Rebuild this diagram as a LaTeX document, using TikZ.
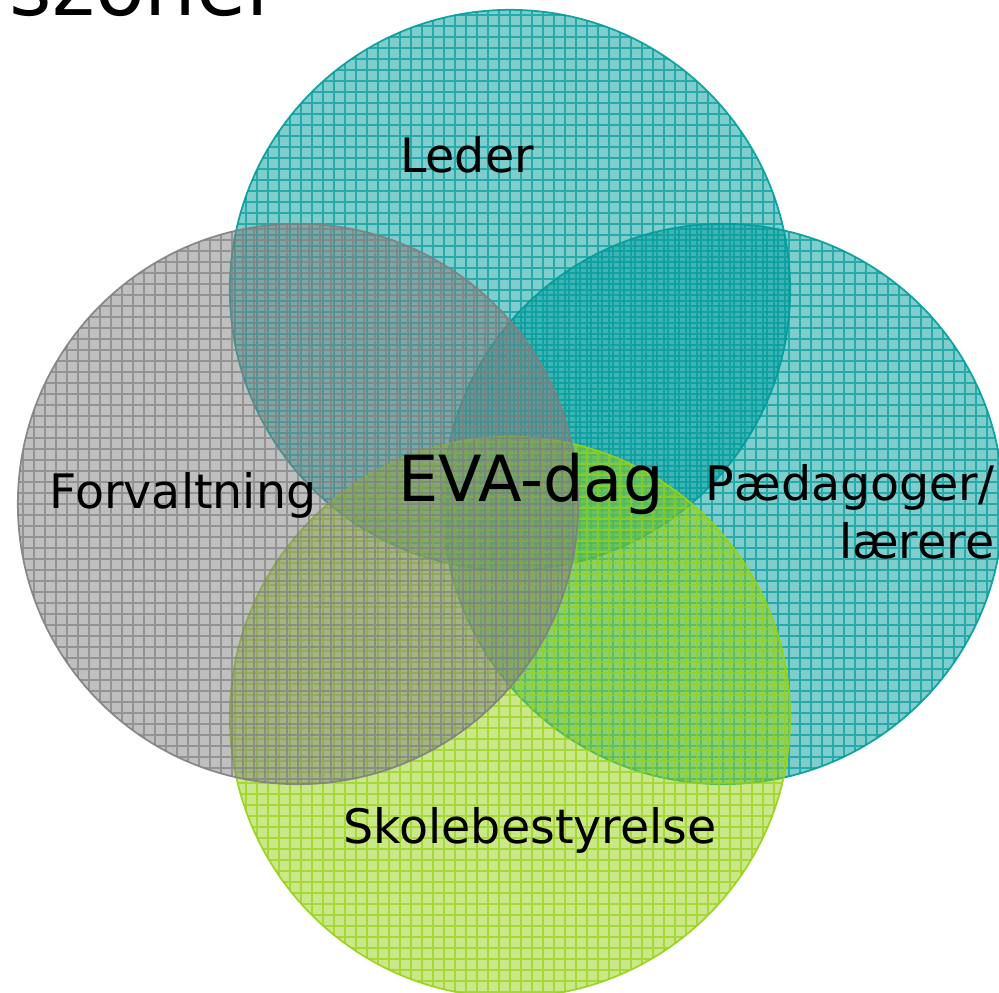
\documentclass[tikz,border=0pt]{standalone}
\usepackage{fontspec}
\setmainfont{DejaVu Sans}
\definecolor{vennteal}{RGB}{0,155,155}
\definecolor{venngrey}{RGB}{128,128,128}
\definecolor{venngreen}{RGB}{150,210,20}

\begin{document}
\begin{tikzpicture}[x=0.01cm, y=0.01cm,
    venn/.style={circle, minimum size=5.6cm, inner sep=0pt, draw=#1, line width=0.5pt,
      fill=#1, fill opacity=0.5, draw opacity=0.9,
      path picture={\draw[#1, draw opacity=0.7, line width=0.3pt, step=11]
        (path picture bounding box.south west) grid (path picture bounding box.north east);}},
    venntext/.style={inner sep=0pt, text=black, font=\fontsize{13.5}{16.5}\selectfont}
]
\useasboundingbox (0,0) rectangle (999,993);

% Titel (beskaaret)
\node[anchor=base west, inner sep=0pt, font=\fontsize{23.2}{27}\selectfont] (title) at (9,977) {szoner};

% Cirkler
\node[venn=vennteal] (leder) at (510,703) {};
\node[venn=vennteal] (paed) at (723,489) {};
\node[venn=venngreen] (skole) at (510,276) {};
\node[venn=venngrey] (forv) at (298,489) {};

% Tekster
\node[venntext] (ledertxt) at (467,838) {Leder};
\node[venntext] (forvtxt) at (183,498) {Forvaltning};
\node[venntext, align=right, anchor=north east] (paedtxt) at (995,529) {Pædagoger/\\lærere};
\node[venntext] (skoletxt) at (530,163) {Skolebestyrelse};
\node[venntext, font=\fontsize{18.1}{21}\selectfont] (eva) at (531,509) {EVA-dag};
\end{tikzpicture}
\end{document}
